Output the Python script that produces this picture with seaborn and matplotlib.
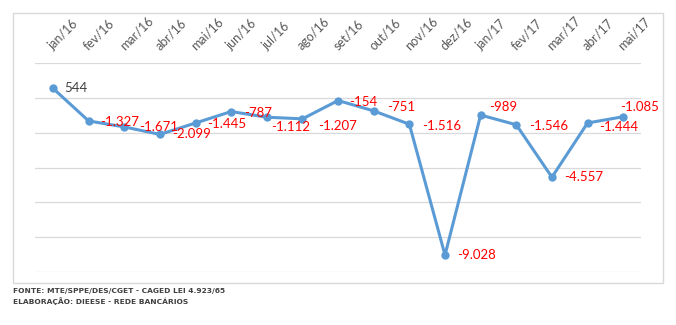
import matplotlib
matplotlib.use("Agg")
import matplotlib.pyplot as plt
from matplotlib.patches import Rectangle
import seaborn as sns
import pandas as pd

# Saldo mensal de empregos bancários (admissões - desligamentos)
meses = ["jan/16", "fev/16", "mar/16", "abr/16", "mai/16", "jun/16", "jul/16",
         "ago/16", "set/16", "out/16", "nov/16", "dez/16", "jan/17", "fev/17",
         "mar/17", "abr/17", "mai/17"]
saldo = [544, -1327, -1671, -2099, -1445, -787, -1112, -1207, -154, -751,
         -1516, -9028, -989, -1546, -4557, -1444, -1085]

fonte = "FONTE: MTE/SPPE/DES/CGET - CAGED LEI 4.923/65"
elaboracao = "ELABORAÇÃO: DIEESE - REDE BANCÁRIOS"

# label offsets (points) relative to each marker
desloc = [(8, 0), (8, -1), (11, 0), (9, 0), (8, -1), (9, -1), (3, -7),
          (11, -5), (8, -1), (10, 3), (9, -1), (9, 0), (6, 6), (9, -1),
          (9, 0), (8, -3), (-2, 7)]

sns.set_theme(style="white")
plt.rcParams["font.family"] = ["Lato", "DejaVu Sans"]

df = pd.DataFrame({"mes": meses, "saldo": saldo, "pos": range(len(meses))})

fig = plt.figure(figsize=(6.76, 3.25), dpi=100)
ax = fig.add_axes([35.2 / 676, 53 / 325, 605.8 / 676, 209 / 325])

azul = "#5B9BD5"
sns.lineplot(data=df, x="pos", y="saldo", ax=ax, color=azul, linewidth=2.2,
             marker="o", markersize=6, markeredgewidth=0, sort=False)

ax.set_xlim(-0.5, len(meses) - 0.5)
ax.set_ylim(-10000, 2000)
ax.set_yticks(range(-10000, 2001, 2000))
ax.set_yticklabels([])
ax.tick_params(axis="y", length=0)
ax.grid(axis="y", color="#D9D9D9", linewidth=0.9)
ax.grid(axis="x", visible=False)
for s in ax.spines.values():
    s.set_visible(False)

ax.set_xticks(df["pos"])
ax.set_xticklabels(meses, rotation=45, ha="left", va="baseline",
                   rotation_mode="anchor", color="#595959", fontsize=9)
ax.xaxis.tick_top()
ax.tick_params(axis="x", length=0, pad=9)
ax.set_xlabel("")
ax.set_ylabel("")

for i, (v, (dx, dy)) in enumerate(zip(saldo, desloc)):
    txt = f"{v:,}".replace(",", ".")
    cor = "#404040" if v >= 0 else "#FF0000"
    ax.annotate(txt, (i, v), xytext=(dx, dy), textcoords="offset points",
                ha="left", va="center", color=cor, fontsize=9.5)

fig.patches.append(Rectangle((13 / 676, 42 / 325), 650 / 676, 270 / 325,
                             transform=fig.transFigure, fill=False,
                             edgecolor="#D9D9D9", linewidth=1.0))

fig.text(13 / 676, 1 - 291 / 325, fonte, family="DejaVu Sans", fontsize=5.4,
         weight="bold", color="#404040", va="center", ha="left")
fig.text(13 / 676, 1 - 301 / 325, elaboracao, family="DejaVu Sans", fontsize=5.4,
         weight="bold", color="#404040", va="center", ha="left")

fig.savefig("out.png", dpi=100, facecolor="white")
